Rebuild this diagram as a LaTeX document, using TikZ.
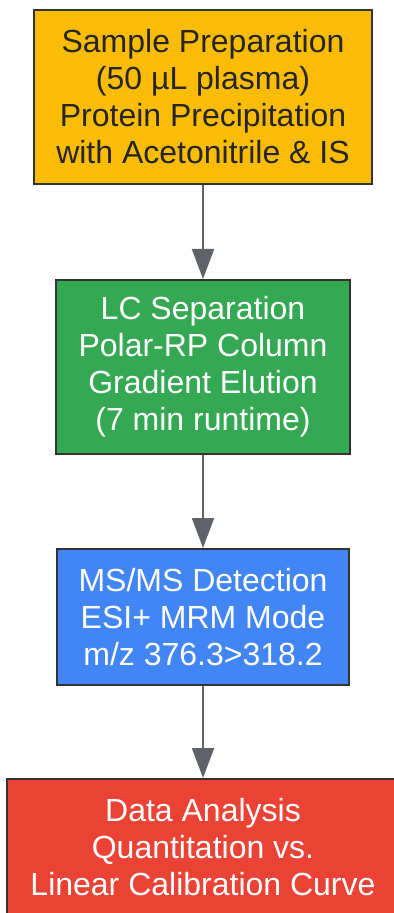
\documentclass[tikz,border=0pt]{standalone}
\usepackage{fontspec}
\setmainfont{Liberation Sans}
\usepackage{tikz}
\usetikzlibrary{arrows.meta, positioning}
\definecolor{prepcol}{HTML}{FBBC05}
\definecolor{lccol}{HTML}{34A853}
\definecolor{mscol}{HTML}{4285F4}
\definecolor{datacol}{HTML}{EA4335}
\definecolor{linecol}{HTML}{5F6368}
\definecolor{edgecol}{HTML}{333333}
\begin{document}
\begin{tikzpicture}[x=0.5pt,y=-0.5pt,>={Triangle[length=15pt,width=11pt]},
  stage/.style={draw=edgecol, line width=1pt, align=center, inner sep=0pt,
    font=\fontsize{16}{18.5}\selectfont, text=white},
  flow/.style={->, draw=linecol, line width=1pt}]
						\useasboundingbox (0,0) rectangle (394,913);
						\node[stage, fill=prepcol, text=black!85, minimum width=169pt, minimum height=87pt] (prep) at (203,97) {Sample Preparation\\(50 µL plasma)\\Protein Precipitation\\with Acetonitrile \& IS};
						\node[stage, fill=lccol, minimum width=147pt, minimum height=87pt] (lc) at (203,367) {LC Separation\\Polar-RP Column\\Gradient Elution\\(7 min runtime)};
						\node[stage, fill=mscol, minimum width=146pt, minimum height=68pt] (ms) at (203,617) {MS/MS Detection\\ESI+ MRM Mode\\m/z 376.3>318.2};
						\node[stage, fill=datacol, minimum width=196pt, minimum height=68pt] (data) at (203,847) {Data Analysis\\Quantitation vs.\\Linear Calibration Curve};
						\draw[flow] (prep) -- (lc); \draw[flow] (lc) -- (ms); \draw[flow] (ms) -- (data);
					\end{tikzpicture}
\end{document}
